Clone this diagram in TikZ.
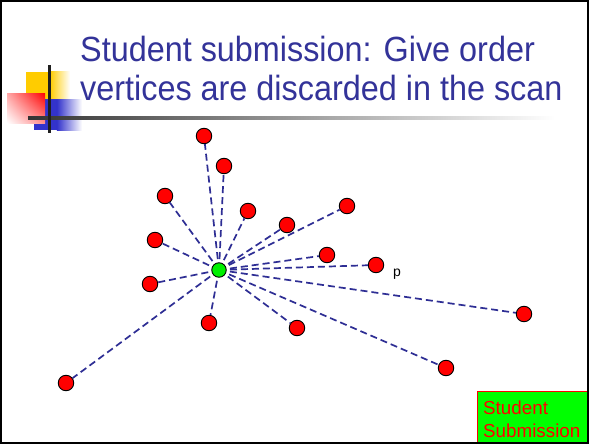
\documentclass[tikz,border=0pt]{standalone}
\usepackage{fontspec}
\usetikzlibrary{shadings}
\setmainfont{Liberation Sans}
\newfontfamily\titlefont[FakeStretch=0.925]{Liberation Sans}
\definecolor{titleblue}{HTML}{333399}
\definecolor{edgeblue}{HTML}{2E2E94}
\definecolor{decoyellow}{HTML}{FFCC00}
\definecolor{decoblue}{HTML}{3333CC}
\definecolor{nodegreen}{HTML}{00F000}
\definecolor{boxgreen}{HTML}{00FF00}
\begin{document}
\begin{tikzpicture}[x=1pt,y=-1pt,
  vtx/.style={circle,draw=black,line width=0.9pt,fill=red,minimum size=15.5pt,inner sep=0pt},
  ctr/.style={circle,draw=black,line width=0.9pt,fill=nodegreen,minimum size=14.5pt,inner sep=0pt},
  edge/.style={draw=edgeblue,line width=1.7pt,dash pattern=on 7pt off 4pt}]
\useasboundingbox (0,0) rectangle (589,444);
\fill[white] (0,0) rectangle (589,444);
% decoration
\fill[decoyellow] (26,72) rectangle (50,99);
\shade[left color=decoyellow,right color=white] (49.9,72) rectangle (70,99);
\fill[decoblue] (34,99) rectangle (57,130);
\shade[left color=decoblue,right color=white] (56.9,99) rectangle (82,130);
\shade[upper right=red,upper left=red!35,lower right=red!45,lower left=white] (7,93) rectangle (45,123);
\shade[left color=black!80,middle color=black!28,right color=white] (28,116) rectangle (555,119);
\fill[black!88] (47.5,65) rectangle (50.5,133);
% title
\node[anchor=base west,inner sep=0pt,text=titleblue,font=\titlefont\fontsize{35}{40}\selectfont] (t1) at (80,62) {Student submission: Give order};
\node[anchor=base west,inner sep=0pt,text=titleblue,font=\titlefont\fontsize{35}{40}\selectfont] (t2) at (80,100) {vertices are discarded in the scan};
% nodes
\coordinate (c) at (219,270);
\node[vtx] (r1) at (204,136) {};
\node[vtx] (r2) at (224,166) {};
\node[vtx] (r3) at (165,196) {};
\node[vtx] (r4) at (248,211) {};
\node[vtx] (r5) at (287,225) {};
\node[vtx] (r6) at (347,206) {};
\node[vtx] (r7) at (155,240) {};
\node[vtx] (r8) at (327,255) {};
\node[vtx] (r9) at (376,265) {};
\node[vtx] (r10) at (150,284) {};
\node[vtx] (r11) at (209,323) {};
\node[vtx] (r12) at (297,328) {};
\node[vtx] (r13) at (524,314) {};
\node[vtx] (r14) at (446,368) {};
\node[vtx] (r15) at (66,383) {};
\foreach \i in {1,...,15} {\draw[edge] (c) -- (r\i);}
\node[ctr] (g) at (c) {};
\node[anchor=base west,inner sep=0pt,font=\fontsize{14}{16}\selectfont] (p) at (393,276) {p};
% box
\node[draw=red,line width=0.8pt,fill=boxgreen,anchor=north west,minimum width=111pt,minimum height=52pt,inner sep=0pt] (box) at (477,391) {};
\node[anchor=base west,inner sep=0pt,text=red,font=\fontsize{18.8}{23}\selectfont] (s1) at (483,414) {Student};
\node[anchor=base west,inner sep=0pt,text=red,font=\fontsize{18.8}{23}\selectfont] (s2) at (483,437) {Submission};
% frame
\draw[black,line width=2.2pt] (1.1,1.1) rectangle (587.9,442.9);
\end{tikzpicture}
\end{document}
